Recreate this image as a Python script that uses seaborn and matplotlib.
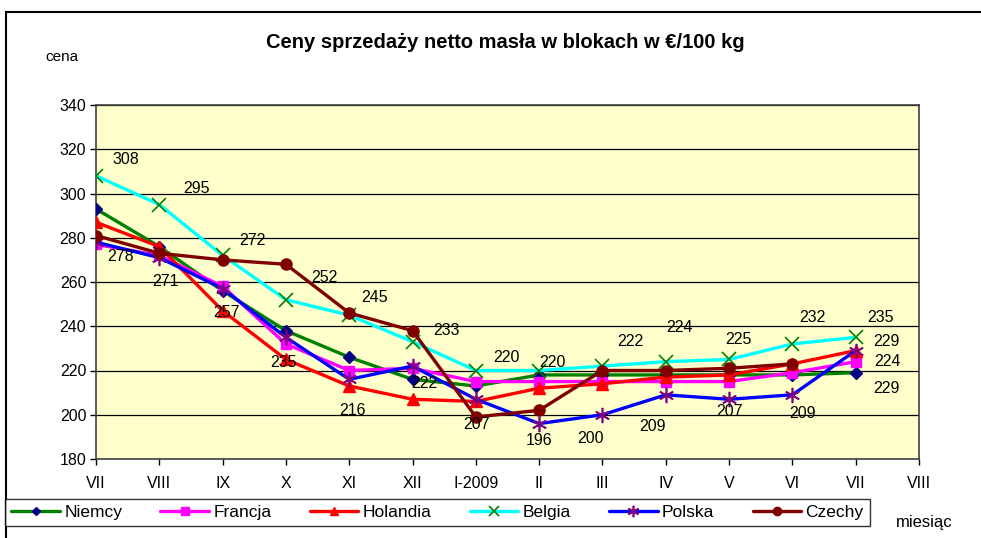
import numpy as np
import pandas as pd
import matplotlib
matplotlib.use("Agg")
import matplotlib.pyplot as plt
from matplotlib.patches import Rectangle
import seaborn as sns

months = ["VII", "VIII", "IX", "X", "XI", "XII", "I-2009",
          "II", "III", "IV", "V", "VI", "VII", "VIII"]

niemcy = [293, 276, 256, 238, 226, 216, 213, 218, 218, 218, 218, 218, 219]
francja = [277, 272, 258, 232, 220, 221, 215, 215, 215, 215, 215, 219, 224]
holandia = [287, 276, 247, 225, 213, 207, 206, 212, 214, 217, 218, 223, 229]
belgia = [308, 295, 272, 252, 245, 233, 220, 220, 222, 224, 225, 232, 235]
polska = [278, 271, 257, 235, 216, 222, 207, 196, 200, 209, 207, 209, 229]
czechy = [281, 273, 270, 268, 246, 238, 199, 202, 220, 220, 221, 223, np.nan]

# label offsets in pixels (dx, dy up)
belgia_off = [(30, 16), (37, 16), (30, 15), (39, 22), (25, 18), (34, 11), (31, 13),
              (13, 8), (28, 25), (14, 34), (9, 20), (20, 26), (25, 20)]
polska_off = [(25, -14), (6, -24), (4, -24), (-2, -25), (3, -31), (12, -17), (1, -25),
              (0, -17), (-12, -24), (-13, -32), (0, -12), (10, -19), (31, -38)]

series = [
    ("Niemcy", niemcy, "#008000", "D", "#000080", 6),
    ("Francja", francja, "#FF00FF", "s", "#FF00FF", 7),
    ("Holandia", holandia, "#FF0000", "^", "#FF0000", 8),
    ("Belgia", belgia, "#00FFFF", "x", "#008000", 10),
    ("Polska", polska, "#0000FF", (6, 2, 0), "#800080", 11),
    ("Czechy", czechy, "#800000", "o", "#800000", 8),
]

sns.set_style("white")
plt.rcParams["font.family"] = ["Liberation Sans", "DejaVu Sans"]
plt.rcParams["text.color"] = "black"
plt.rcParams["xtick.color"] = "black"
plt.rcParams["ytick.color"] = "black"

fig = plt.figure(figsize=(9.81, 5.38), dpi=100)
ax = fig.add_axes([96 / 981, 79 / 538, 823 / 981, 354 / 538])
ax.set_facecolor("#FFFFCC")

pos = np.arange(len(niemcy))
for name, vals, col, mk, mcol, ms in series:
    df = pd.DataFrame({"x": pos, "y": vals})
    sns.lineplot(data=df, x="x", y="y", ax=ax, color=col, lw=2.4, marker=mk,
                 markersize=ms, markerfacecolor=mcol, markeredgecolor=mcol,
                 markeredgewidth=1.2 if mk in ("x",) or isinstance(mk, tuple) else 1,
                 label=name, sort=False, zorder=3)

lab_fs = 11.5
for i, v in enumerate(belgia):
    ax.annotate(str(v), (pos[i], v), xytext=belgia_off[i], textcoords="offset pixels",
                ha="center", va="center", fontsize=lab_fs, zorder=5)
for i, v in enumerate(polska):
    ax.annotate(str(v), (pos[i], v), xytext=polska_off[i], textcoords="offset pixels",
                ha="center", va="center", fontsize=lab_fs, zorder=5)
ax.annotate(str(holandia[-1]), (pos[-1], holandia[-1]), xytext=(31, 9),
            textcoords="offset pixels", ha="center", va="center", fontsize=lab_fs)
ax.annotate(str(francja[-1]), (pos[-1], francja[-1]), xytext=(32, 0),
            textcoords="offset pixels", ha="center", va="center", fontsize=lab_fs)

ax.set_xlim(0, len(months) - 1)
ax.set_ylim(180, 340)
ax.set_yticks(np.arange(180, 341, 20))
ax.set_xticks(np.arange(len(months)))
ax.set_xticklabels(months)
ax.yaxis.grid(True, color="black", lw=0.9)
ax.xaxis.grid(False)
ax.set_axisbelow(True)
ax.tick_params(axis="both", direction="out", length=4, width=1, color="black",
               labelsize=11.5, pad=3, bottom=True, left=True)
ax.tick_params(axis="x", pad=8)
for s in ax.spines.values():
    s.set_color("#404040")
    s.set_linewidth(1.2)
ax.set_xlabel("")
ax.set_ylabel("")
ax.get_legend().remove()

fig.text(505 / 981, 1 - 42 / 538, "Ceny sprzedaży netto masła w blokach w €/100 kg",
         ha="center", va="center", fontsize=14.5, fontweight="bold")
fig.text(62 / 981, 1 - 57 / 538, "cena", ha="center", va="center", fontsize=11)
fig.text(924 / 981, 1 - 522 / 538, "miesiąc", ha="center", va="center", fontsize=12)

fig.patches.append(Rectangle((6 / 981, -0.1), 2, 1.1 - 12 / 538, transform=fig.transFigure,
                             fill=False, edgecolor="black", lw=1.5))

handles, labels = ax.get_legend_handles_labels()
leg = fig.legend(handles, labels, loc="center", ncol=6,
                 bbox_to_anchor=(437.5 / 981, 1 - 512.5 / 538), frameon=True, fancybox=False,
                 edgecolor="black", fontsize=12.5, handlelength=2.8, columnspacing=2.2,
                 handletextpad=0.25, borderpad=0.35, borderaxespad=0, markerscale=0.75)
leg.get_frame().set_linewidth(1)

fig.savefig("out.png", dpi=100)
